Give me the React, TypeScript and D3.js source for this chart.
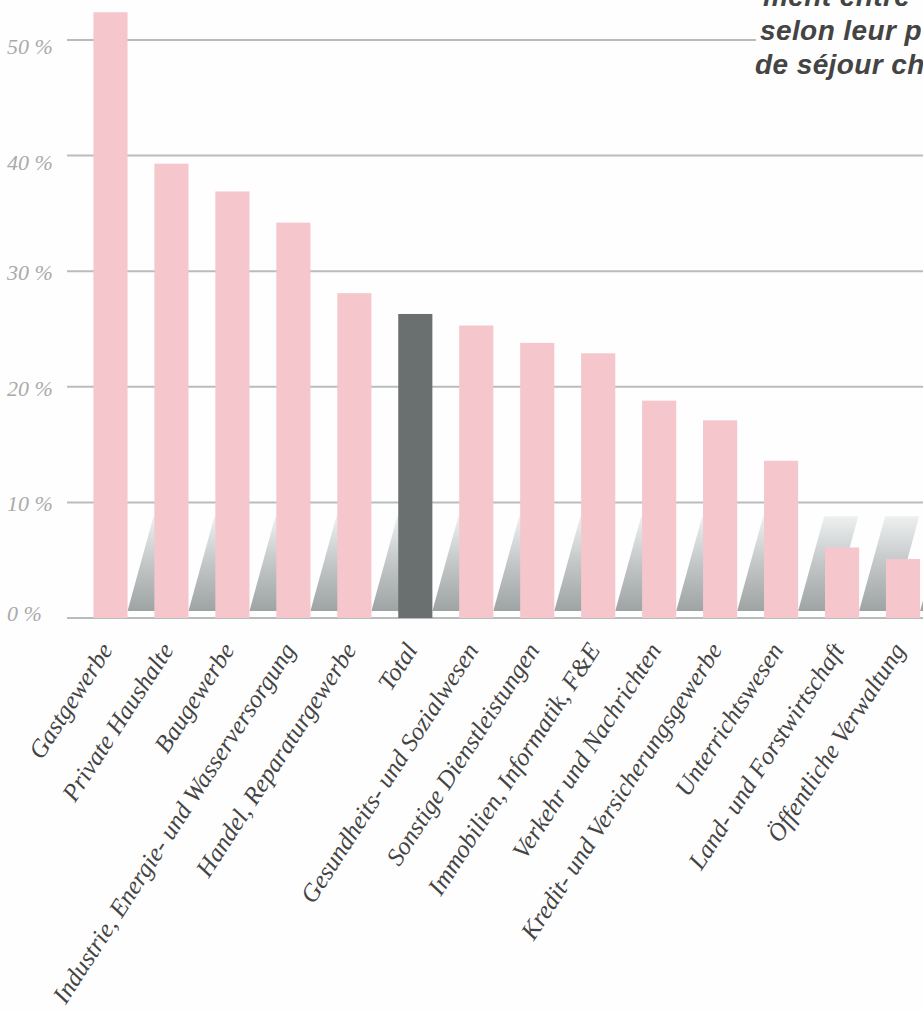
import React from "react";
import * as d3 from "d3";

const categories = [
  "Gastgewerbe",
  "Private Haushalte",
  "Baugewerbe",
  "Industrie, Energie- und Wasserversorgung",
  "Handel, Reparaturgewerbe",
  "Total",
  "Gesundheits- und Sozialwesen",
  "Sonstige Dienstleistungen",
  "Immobilien, Informatik, F&E",
  "Verkehr und Nachrichten",
  "Kredit- und Versicherungsgewerbe",
  "Unterrichtswesen",
  "Land- und Forstwirtschaft",
  "Öffentliche Verwaltung",
];
const values = [52.4, 39.3, 36.9, 34.2, 28.1, 26.3, 25.3, 23.8, 22.9, 18.8, 17.1, 13.6, 6.1, 5.1];
const highlight = "Total";
const yTicks = [0, 10, 20, 30, 40, 50];
const titleLines = ["ment entre", "selon leur p", "de séjour ch"];

const W = 923;
const H = 1012;

export default function App() {
  const x = d3.scaleBand<string>().domain(categories).range([80, 933.5]).paddingInner(0.44).paddingOuter(0.22);
  const y = d3.scaleLinear().domain([0, 50]).range([618, 40]);
  const bw = x.bandwidth();
  const shadowTop = y(8.8);
  const shadowBottom = y(0.6);
  const dx = 26;

  const labelFont = "'Liberation Serif', 'Times New Roman', serif";

  return (
    <svg width={W} height={H} style={{ position: "absolute", left: 0, top: 0, display: "block", background: "#fefefe" }}>
      <defs>
        <linearGradient id="shade" x1="0" y1="1" x2="0" y2="0">
          <stop offset="0" stopColor="#9ea3a3" />
          <stop offset="0.5" stopColor="#c2c6c6" />
          <stop offset="1" stopColor="#eef0f0" />
        </linearGradient>
      </defs>
      <rect x={0} y={0} width={W} height={H} fill="#fefefe" />
      {yTicks.map((t) => (
        <line
          key={"g" + t}
          x1={67}
          x2={t === 50 ? 756 : W}
          y1={y(t)}
          y2={y(t)}
          stroke="#b9bcbc"
          strokeWidth={2}
        />
      ))}
      {yTicks.map((t) => (
        <text
          key={"t" + t}
          x={7}
          y={y(t) + (t >= 40 ? 9 : t === 0 ? -2 : 4)}
          dominantBaseline="middle"
          fontFamily={labelFont}
          fontStyle="italic"
          fontSize={22}
          fill="#aaaaaa"
        >
          {t + " %"}
        </text>
      ))}
      {categories.map((c) => {
        const r = (x(c) as number) + bw;
        const pts = [
          [r, shadowBottom],
          [r + bw, shadowBottom],
          [r + bw + dx, shadowTop],
          [r + dx, shadowTop],
        ];
        return <polygon key={"s" + c} points={pts.map((p) => p.join(",")).join(" ")} fill="url(#shade)" />;
      })}
      {categories.map((c, i) => (
        <rect
          key={"b" + c}
          x={x(c)}
          y={y(values[i])}
          width={bw}
          height={y(0) - y(values[i])}
          fill={c === highlight ? "#6a7070" : "#f6c6cd"}
        />
      ))}
      {categories.map((c) => {
        const cx = (x(c) as number) + bw / 2 + 3;
        const cy = 650;
        return (
          <text
            key={"l" + c}
            x={cx}
            y={cy}
            transform={`rotate(-57, ${cx}, ${cy})`}
            textAnchor="end"
            fontFamily={labelFont}
            fontStyle="italic"
            fontSize={25}
            fill="#444"
          >
            {c}
          </text>
        );
      })}
      {titleLines.map((s, i) => (
        <text
          key={"h" + i}
          x={[763, 760, 755][i]}
          y={6 + i * 34}
          fontFamily="'Liberation Sans', Arial, sans-serif"
          fontStyle="italic"
          fontWeight={700}
          fontSize={28}
          letterSpacing={0.4}
          fill="#444"
        >
          {s}
        </text>
      ))}
    </svg>
  );
}
